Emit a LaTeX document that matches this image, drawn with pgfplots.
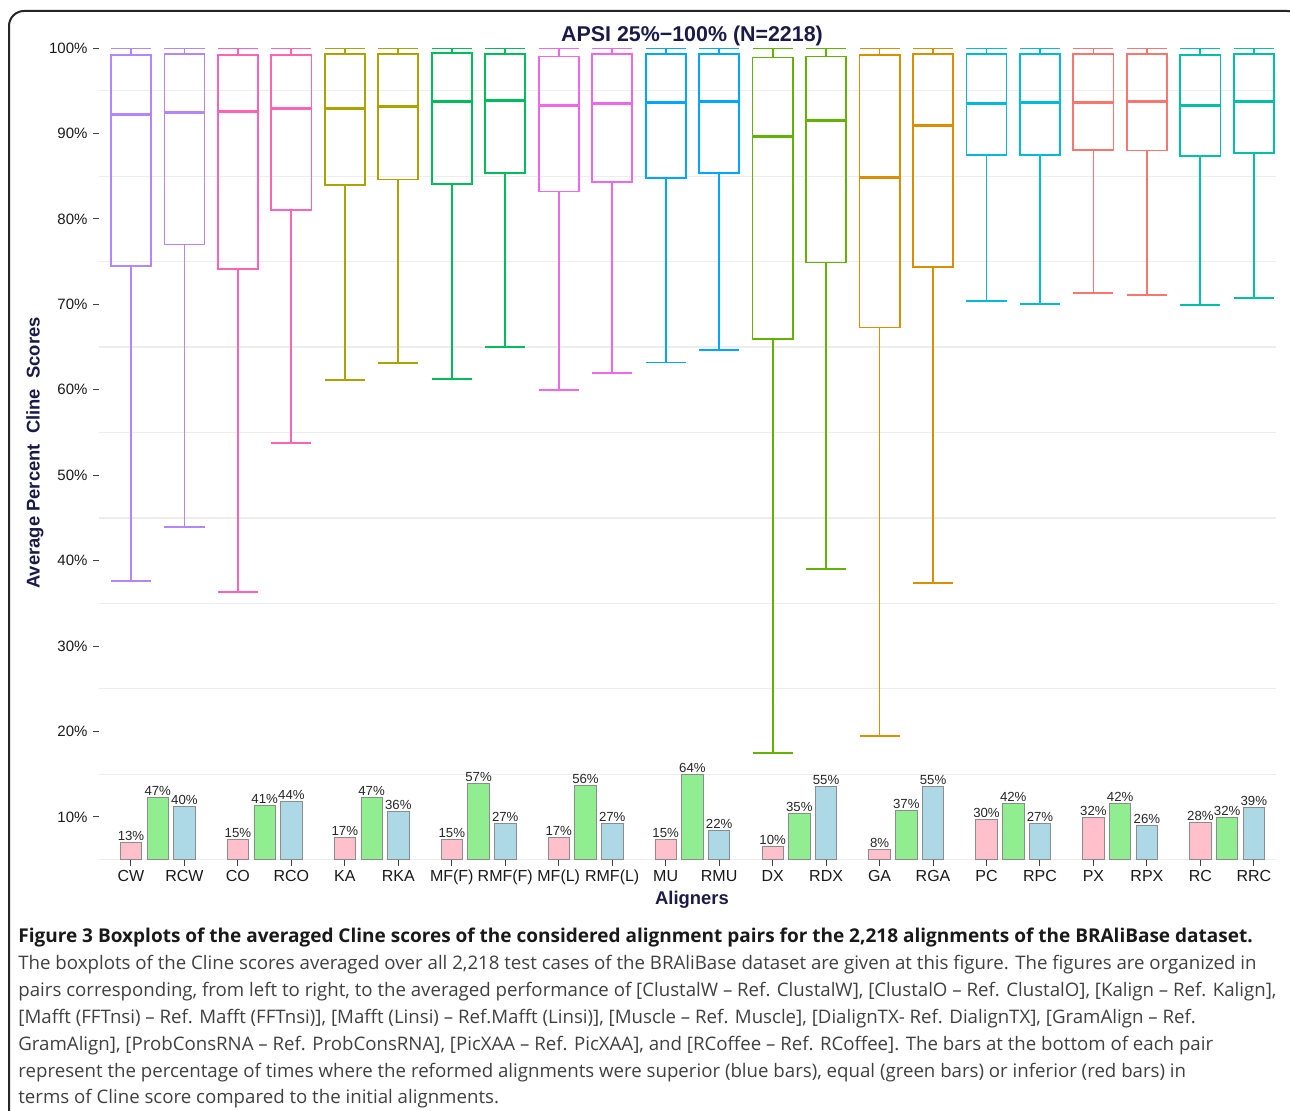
\documentclass[border=0pt]{standalone}
\usepackage{pgfplots}
\pgfplotsset{compat=1.18}
\usepgfplotslibrary{statistics}
\usepackage{fontspec}
\setmainfont{Liberation Sans}
\newfontfamily\capfont{Open Sans}

% ggplot hue colours, one per aligner pair
\definecolor{cCW}{HTML}{B385FF}
\definecolor{cCO}{HTML}{FF63B6}
\definecolor{cKA}{HTML}{AEA200}
\definecolor{cMFF}{HTML}{00BD5C}
\definecolor{cMFL}{HTML}{EF67EB}
\definecolor{cMU}{HTML}{00A6FF}
\definecolor{cDX}{HTML}{64B200}
\definecolor{cGA}{HTML}{DB8E00}
\definecolor{cPC}{HTML}{00BADE}
\definecolor{cPX}{HTML}{F8766D}
\definecolor{cRC}{HTML}{00C1A7}
\definecolor{inferior}{HTML}{FFC0CB}
\definecolor{equal}{HTML}{90EE90}
\definecolor{superior}{HTML}{ADD8E6}
\definecolor{navy}{RGB}{26,26,72}
\definecolor{captext}{RGB}{64,64,64}

\begin{document}
\begin{tikzpicture}
\useasboundingbox (0,0) rectangle (645pt,555pt);

% boxplots
\begin{axis}[
  at={(49.45pt,125.15pt)}, anchor=south west,
  scale only axis, width=588.7pt, height=405.85pt,
  xmin=0.4, xmax=22.42, ymin=5, ymax=100,
  axis x line*=bottom, axis y line*=left,
  axis line style={draw=none,-},
  xtick={1,...,22},
  xticklabels={CW,RCW,CO,RCO,KA,RKA,MF(F),RMF(F),MF(L),RMF(L),MU,RMU,DX,RDX,GA,RGA,PC,RPC,PX,RPX,RC,RRC},
  ytick={10,20,...,100},
  yticklabels={10\%,20\%,30\%,40\%,50\%,60\%,70\%,80\%,90\%,100\%},
  minor ytick={5,15,...,95},
  yminorgrids, minor grid style={black!7, line width=0.6pt},
  minor tick length=0pt,
  tick align=outside, major tick length=3pt,
  tick style={black!75, line width=0.5pt},
  x tick label style={font=\fontsize{8}{9}\selectfont, inner sep=0pt, text=black!90, yshift=-2pt},
  y tick label style={font=\fontsize{7.5}{9}\selectfont, inner sep=0pt, text=black!90, xshift=-2.5pt},
  boxplot/draw direction=y,
  boxplot/box extend=0.75,
  boxplot/whisker extend=0.75,
  boxplot/every median/.style={line width=1.5pt},
  every axis plot/.append style={line width=0.9pt},
]
\addplot[cCW, boxplot prepared={draw position=1, lower whisker=37.6, lower quartile=74.5, median=92.2, upper quartile=99.2, upper whisker=100}] coordinates {};
\addplot[cCW, boxplot prepared={draw position=2, lower whisker=43.9, lower quartile=77.0, median=92.5, upper quartile=99.3, upper whisker=100}] coordinates {};
\addplot[cCO, boxplot prepared={draw position=3, lower whisker=36.3, lower quartile=74.1, median=92.6, upper quartile=99.2, upper whisker=100}] coordinates {};
\addplot[cCO, boxplot prepared={draw position=4, lower whisker=53.8, lower quartile=81.0, median=92.9, upper quartile=99.2, upper whisker=100}] coordinates {};
\addplot[cKA, boxplot prepared={draw position=5, lower whisker=61.1, lower quartile=84.0, median=92.9, upper quartile=99.3, upper whisker=100}] coordinates {};
\addplot[cKA, boxplot prepared={draw position=6, lower whisker=63.1, lower quartile=84.6, median=93.1, upper quartile=99.3, upper whisker=100}] coordinates {};
\addplot[cMFF, boxplot prepared={draw position=7, lower whisker=61.3, lower quartile=84.1, median=93.7, upper quartile=99.4, upper whisker=100}] coordinates {};
\addplot[cMFF, boxplot prepared={draw position=8, lower whisker=65.0, lower quartile=85.4, median=93.8, upper quartile=99.3, upper whisker=100}] coordinates {};
\addplot[cMFL, boxplot prepared={draw position=9, lower whisker=60.0, lower quartile=83.2, median=93.25, upper quartile=99.0, upper whisker=100}] coordinates {};
\addplot[cMFL, boxplot prepared={draw position=10, lower whisker=62.0, lower quartile=84.3, median=93.5, upper quartile=99.3, upper whisker=100}] coordinates {};
\addplot[cMU, boxplot prepared={draw position=11, lower whisker=63.2, lower quartile=84.8, median=93.6, upper quartile=99.3, upper whisker=100}] coordinates {};
\addplot[cMU, boxplot prepared={draw position=12, lower whisker=64.7, lower quartile=85.4, median=93.7, upper quartile=99.3, upper whisker=100}] coordinates {};
\addplot[cDX, boxplot prepared={draw position=13, lower whisker=17.5, lower quartile=65.9, median=89.6, upper quartile=98.9, upper whisker=100}] coordinates {};
\addplot[cDX, boxplot prepared={draw position=14, lower whisker=39.0, lower quartile=74.9, median=91.5, upper quartile=99.0, upper whisker=100}] coordinates {};
\addplot[cGA, boxplot prepared={draw position=15, lower whisker=19.5, lower quartile=67.3, median=84.9, upper quartile=99.2, upper whisker=100}] coordinates {};
\addplot[cGA, boxplot prepared={draw position=16, lower whisker=37.4, lower quartile=74.4, median=90.95, upper quartile=99.3, upper whisker=100}] coordinates {};
\addplot[cPC, boxplot prepared={draw position=17, lower whisker=70.4, lower quartile=87.5, median=93.5, upper quartile=99.3, upper whisker=100}] coordinates {};
\addplot[cPC, boxplot prepared={draw position=18, lower whisker=70.0, lower quartile=87.5, median=93.6, upper quartile=99.3, upper whisker=100}] coordinates {};
\addplot[cPX, boxplot prepared={draw position=19, lower whisker=71.3, lower quartile=88.1, median=93.6, upper quartile=99.3, upper whisker=100}] coordinates {};
\addplot[cPX, boxplot prepared={draw position=20, lower whisker=71.1, lower quartile=88.0, median=93.7, upper quartile=99.3, upper whisker=100}] coordinates {};
\addplot[cRC, boxplot prepared={draw position=21, lower whisker=69.9, lower quartile=87.4, median=93.3, upper quartile=99.2, upper whisker=100}] coordinates {};
\addplot[cRC, boxplot prepared={draw position=22, lower whisker=70.7, lower quartile=87.75, median=93.7, upper quartile=99.3, upper whisker=100}] coordinates {};
\end{axis}

% inferior / equal / superior bars, baseline at the 5% line
\begin{axis}[
  at={(49.45pt,125.15pt)}, anchor=south west,
  scale only axis, width=588.7pt, height=405.85pt,
  xmin=0.4, xmax=22.42, ymin=0, ymax=608,
  hide axis, clip=false,
  point meta=y,
  nodes near coords={\pgfmathprintnumber{\pgfplotspointmeta}\%},
  /pgf/number format/assume math mode=true,
  every node near coord/.append style={font=\fontsize{6.6}{8}\selectfont, inner sep=0.6pt, anchor=south, text=black!85},
]
\addplot[ybar, bar width=0.4, bar shift=0pt, fill=inferior, draw=black!45, line width=0.4pt]
  coordinates {(1,13) (3,15) (5,17) (7,15) (9,17) (11,15) (13,10) (15,8) (17,30) (19,32) (21,28)};
\addplot[ybar, bar width=0.4, bar shift=0pt, fill=equal, draw=black!45, line width=0.4pt]
  coordinates {(1.5,47) (3.5,41) (5.5,47) (7.5,57) (9.5,56) (11.5,64) (13.5,35) (15.5,37) (17.5,42) (19.5,42) (21.5,32)};
\addplot[ybar, bar width=0.4, bar shift=0pt, fill=superior, draw=black!45, line width=0.4pt]
  coordinates {(2,40) (4,44) (6,36) (8,27) (10,27) (12,22) (14,55) (16,55) (18,27) (20,26) (22,39)};
\end{axis}

\node[font=\bfseries\fontsize{10.7}{12}\selectfont, text=navy] at (346pt,537pt) {APSI 25\%−100\% (N=2218)};
\node[font=\bfseries\fontsize{9.2}{11}\selectfont, text=navy, rotate=90] at (17.5pt,328.5pt) {Average Percent\ \ Cline\ \ Scores};
\node[font=\bfseries\fontsize{9.2}{11}\selectfont, text=navy] at (346pt,105pt) {Aligners};

% frame
\draw[line width=1pt, black!85, rounded corners=7.5pt] (4.5pt,-5pt) -- (4.5pt,549.5pt) -- (651pt,549.5pt) -- (651pt,500pt);

% caption
\begin{scope}[every node/.style={anchor=base west, inner sep=0pt, font=\capfont\fontsize{9.33}{11}\selectfont, text=captext}]
\node[font=\capfont\bfseries\fontsize{9.5}{11}\selectfont, text=black!90] at (9pt,84pt) {Figure 3 Boxplots of the averaged Cline scores of the considered alignment pairs for the 2,218 alignments of the BRAliBase dataset.};
\node at (9pt,70.5pt) {The boxplots of the Cline scores averaged over all 2,218 test cases of the BRAliBase dataset are given at this figure. The figures are organized in};
\node at (9pt,57pt) {pairs corresponding, from left to right, to the averaged performance of [ClustalW – Ref. ClustalW], [ClustalO – Ref. ClustalO], [Kalign – Ref. Kalign],};
\node at (9pt,43.5pt) {[Mafft (FFTnsi) – Ref. Mafft (FFTnsi)], [Mafft (Linsi) – Ref.Mafft (Linsi)], [Muscle – Ref. Muscle], [DialignTX- Ref. DialignTX], [GramAlign – Ref.};
\node at (9pt,30pt) {GramAlign], [ProbConsRNA – Ref. ProbConsRNA], [PicXAA – Ref. PicXAA], and [RCoffee – Ref. RCoffee]. The bars at the bottom of each pair};
\node at (9pt,16.5pt) {represent the percentage of times where the reformed alignments were superior (blue bars), equal (green bars) or inferior (red bars) in};
\node at (9pt,3.5pt) {terms of Cline score compared to the initial alignments.};
\end{scope}
\end{tikzpicture}
\end{document}
